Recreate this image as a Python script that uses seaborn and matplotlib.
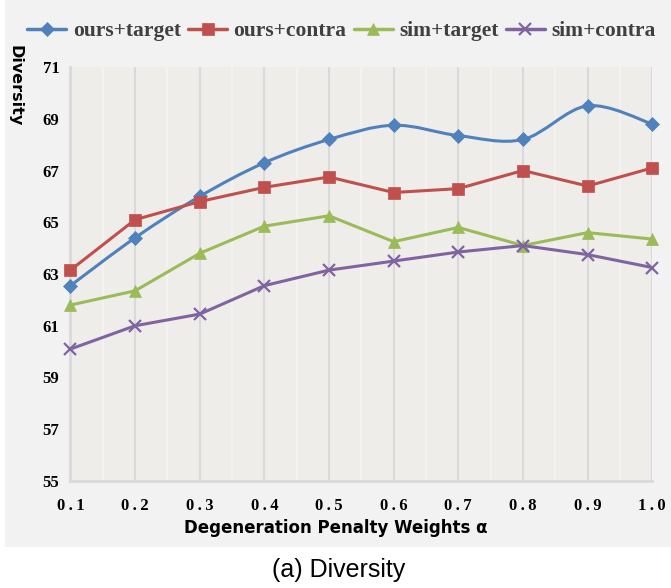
import matplotlib
matplotlib.use('Agg')
from matplotlib import pyplot as plt
from matplotlib.path import Path
from matplotlib.patches import PathPatch, Rectangle
from matplotlib.lines import Line2D
import seaborn as sns
import pandas as pd

# ---- data ----
alpha = [0.1, 0.2, 0.3, 0.4, 0.5, 0.6, 0.7, 0.8, 0.9, 1.0]
ours_target = [62.55, 64.4, 66.0, 67.3, 68.2, 68.75, 68.35, 68.2, 69.5, 68.8]
ours_contra = [63.15, 65.1, 65.8, 66.35, 66.75, 66.15, 66.3, 67.0, 66.4, 67.1]
sim_target = [61.8, 62.35, 63.8, 64.85, 65.25, 64.25, 64.8, 64.1, 64.6, 64.35]
sim_contra = [60.1, 61.0, 61.45, 62.55, 63.15, 63.5, 63.85, 64.1, 63.75, 63.25]

series_names = ['ours+target', 'ours+contra', 'sim+target', 'sim+contra']
series_colors = ['#4f81bd', '#c0504d', '#9bbb59', '#8064a2']
series_markers = ['D', 's', '^', 'x']
marker_sizes = [7, 8.5, 8.5, 8]

x_tick_labels = ['0.1', '0.2', '0.3', '0.4', '0.5', '0.6', '0.7', '0.8', '0.9', '1.0']
y_ticks = [55, 57, 59, 61, 63, 65, 67, 69, 71]

df = pd.DataFrame({
    'alpha': alpha,
    'ours+target': ours_target,
    'ours+contra': ours_contra,
    'sim+target': sim_target,
    'sim+contra': sim_contra,
}).melt(id_vars='alpha', var_name='method', value_name='diversity')

sns.set_theme(style='white')
plt.rcParams['font.family'] = ['DejaVu Sans']

fig = plt.figure(figsize=(6.71, 5.88), dpi=100)
fig.patch.set_facecolor('white')
# light grey chart area (the caption sits on white below it)
fig.add_artist(Rectangle((5 / 671, 1 - 547 / 588), 1, 547 / 588,
                         transform=fig.transFigure, facecolor='#f2f2f2',
                         edgecolor='none', zorder=-1))

ax = fig.add_axes([0.105, 0.182, 0.867, 0.704])
ax.set_facecolor('#eeede9')


def smooth_path(xs, ys):
    # Catmull-Rom style bezier through the data points (Excel "smoothed line")
    pts = list(zip(xs, ys))
    verts = [pts[0]]
    codes = [Path.MOVETO]
    n = len(pts)
    for i in range(n - 1):
        p0 = pts[max(i - 1, 0)]
        p1 = pts[i]
        p2 = pts[i + 1]
        p3 = pts[min(i + 2, n - 1)]
        c1 = (p1[0] + (p2[0] - p0[0]) / 6, p1[1] + (p2[1] - p0[1]) / 6)
        c2 = (p2[0] - (p3[0] - p1[0]) / 6, p2[1] - (p3[1] - p1[1]) / 6)
        verts += [c1, c2, p2]
        codes += [Path.CURVE4] * 3
    return Path(verts, codes)


for i, name in enumerate(series_names):
    sub = df[df['method'] == name]
    sns.lineplot(data=sub, x='alpha', y='diversity', ax=ax,
                 color=series_colors[i], marker=series_markers[i],
                 markersize=marker_sizes[i], markeredgecolor=series_colors[i],
                 markeredgewidth=1.6 if series_markers[i] == 'x' else 0.5,
                 linewidth=2.2, zorder=3 + i, legend=False, clip_on=False)
    line = ax.lines[-1]
    if i == 0:
        line.set_linestyle('None')
        ax.add_patch(PathPatch(smooth_path(alpha, ours_target), fill=False,
                               edgecolor=series_colors[i], linewidth=2.2,
                               zorder=2.9, clip_on=False))

ax.set_xlim(alpha[0], alpha[-1])
ax.set_ylim(y_ticks[0], y_ticks[-1])
ax.set_xticks(alpha)
ax.set_xticks([(a + b) / 2 for a, b in zip(alpha[:-1], alpha[1:])], minor=True)
# the reference letter-spaces the x tick labels
ax.set_xticklabels(['\u2009'.join(t) for t in x_tick_labels])
ax.set_yticks(y_ticks)
ax.set_yticklabels([str(v) for v in y_ticks])
for lab in ax.get_xticklabels() + ax.get_yticklabels():
    lab.set_fontfamily(['Liberation Serif', 'DejaVu Serif'])
    lab.set_fontweight('bold')
    lab.set_fontsize(12)
    lab.set_color('black')
ax.tick_params(axis='x', which='both', length=0, pad=12)
ax.tick_params(axis='y', which='both', length=0, pad=8)

ax.grid(False)
ax.grid(axis='x', which='major', color='#d9d9d9', linewidth=1.5)
ax.grid(axis='x', which='minor', color='#f5f4f2', linewidth=1.2)
ax.set_axisbelow(True)
for side in ['top', 'right']:
    ax.spines[side].set_visible(False)
for side in ['left', 'bottom']:
    ax.spines[side].set_color('#d9d9d9')
    ax.spines[side].set_linewidth(2)

ax.set_xlabel('')
ax.set_ylabel('')
fig.text(15 / 671, 1 - 86 / 588, 'Diversity', rotation=270, ha='center',
         va='center', fontweight='bold', fontsize=11.5, color='black')
fig.text(336 / 671, 1 - 533 / 588, 'Degeneration Penalty Weights α',
         ha='center', va='baseline', fontweight='bold', fontsize=12,
         color='black')
fig.text(338.5 / 671, 1 - 577 / 588, '(a) Diversity', ha='center',
         va='baseline', fontfamily='Liberation Sans', fontsize=18,
         color='black')

handles = [Line2D([], [], color=c, marker=m, markersize=ms, markeredgecolor=c,
                  markeredgewidth=1.6 if m == 'x' else 0.5, linewidth=2.5)
           for c, m, ms in zip(series_colors, series_markers, marker_sizes)]
fig.legend(handles, series_names, loc='center',
           bbox_to_anchor=(0.509, 1 - 31 / 588), ncol=4, frameon=False,
           prop={'family': 'Liberation Serif', 'weight': 'bold', 'size': 15.5},
           handlelength=1.8, handletextpad=0.3, columnspacing=0.35,
           labelcolor='#404040')

fig.savefig('out.png', dpi=100, facecolor=fig.get_facecolor())
